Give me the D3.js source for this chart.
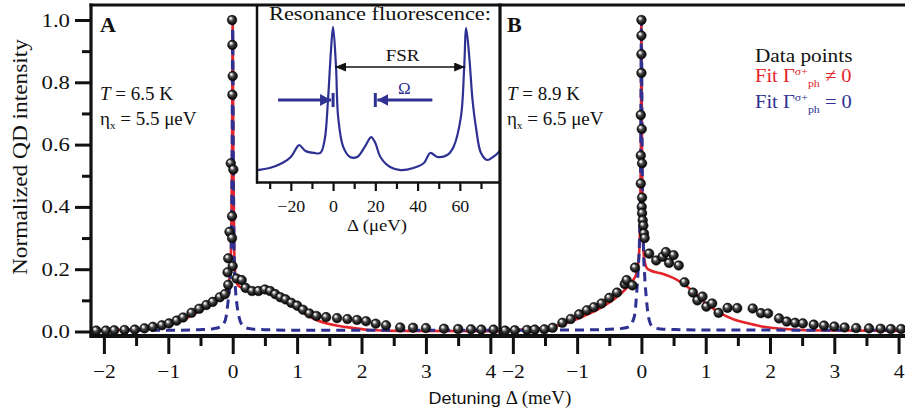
<!DOCTYPE html>
<html>
<head>
<meta charset="utf-8">
<script src="https://cdn.jsdelivr.net/npm/d3@7"></script>
<style>
  body { margin: 0; background: #fff; }
  svg text { font-family: "Liberation Serif", "Times New Roman", Times, serif; }
</style>
</head>
<body>
<svg id="chart" width="905" height="413"></svg>
<script>
// ---- measured spectra: detuning Δ (meV), normalized intensity ----
const dataA = [
  [-2.12,0.003],[-1.97,0.003],[-1.84,0.004],[-1.68,0.005],[-1.52,0.006],[-1.37,0.010],
  [-1.24,0.015],[-1.10,0.020],[-0.99,0.026],[-0.87,0.035],[-0.77,0.045],[-0.64,0.060],
  [-0.52,0.073],[-0.41,0.085],[-0.31,0.095],[-0.20,0.110],[-0.12,0.120],[-0.07,0.150],
  [-0.01,1.000],[-0.005,0.920],[0.0,0.820],[-0.005,0.760],[-0.03,0.540],[0.01,0.520],
  [-0.01,0.370],[-0.05,0.320],[-0.01,0.300],[-0.07,0.235],[0.0,0.210],[-0.08,0.190],
  [0.06,0.170],[0.14,0.165],
  [0.20,0.140],[0.30,0.130],[0.40,0.130],[0.50,0.135],[0.58,0.130],[0.66,0.120],
  [0.74,0.110],[0.82,0.103],[0.91,0.092],[1.00,0.083],[1.09,0.070],[1.19,0.058],
  [1.30,0.050],[1.45,0.046],[1.62,0.043],[1.78,0.040],[1.93,0.037],[2.07,0.033],
  [2.22,0.025],[2.38,0.020],[2.60,0.013],[2.80,0.012],[3.00,0.011],[3.28,0.009],
  [3.50,0.008],[3.70,0.007],[3.86,0.006],[4.05,0.006]
];
const fitRedA = [
  [-2.2,0.003],[-1.6,0.006],[-1.2,0.014],[-0.9,0.028],[-0.7,0.045],[-0.5,0.068],
  [-0.3,0.092],[-0.18,0.110],[-0.1,0.130],[-0.05,0.170],[-0.025,0.270],[-0.01,0.550],
  [0,1.0],[0.01,0.550],[0.025,0.250],[0.05,0.165],[0.1,0.145],[0.2,0.138],[0.35,0.133],
  [0.5,0.128],[0.65,0.115],[0.8,0.098],[0.95,0.080],[1.1,0.060],[1.3,0.037],[1.5,0.024],
  [1.77,0.014],[2.13,0.005],[2.6,0.002],[4.15,0.001]
];
const fitBlueA = [
  [-2.2,0.004],[-1.0,0.004],[-0.5,0.006],[-0.3,0.009],[-0.2,0.014],[-0.14,0.025],
  [-0.1,0.050],[-0.07,0.100],[-0.045,0.150],[-0.025,0.250],[-0.01,0.550],[0,1.0],
  [0.01,0.550],[0.025,0.220],[0.045,0.130],[0.07,0.080],[0.1,0.045],[0.14,0.022],
  [0.2,0.012],[0.3,0.008],[0.5,0.006],[1.0,0.004],[4.15,0.004]
];
const dataB = [
  [-2.12,0.003],[-1.97,0.004],[-1.78,0.005],[-1.66,0.006],[-1.51,0.007],[-1.38,0.012],
  [-1.23,0.028],[-1.10,0.040],[-0.97,0.055],[-0.85,0.068],[-0.74,0.078],[-0.62,0.090],
  [-0.50,0.108],[-0.38,0.125],[-0.26,0.152],[-0.23,0.165],[-0.14,0.148],[-0.10,0.205],
  [0.0,1.000],[0.0,0.950],[0.0,0.890],[0.0,0.830],[-0.01,0.695],[0.005,0.650],
  [-0.01,0.565],[0.01,0.540],[-0.01,0.475],[0.01,0.430],[0.005,0.400],[0.01,0.380],
  [0.02,0.357],[0.03,0.340],[0.04,0.315],[0.05,0.300],
  [0.12,0.250],[0.23,0.228],[0.33,0.240],[0.38,0.255],[0.43,0.220],[0.50,0.245],
  [0.58,0.212],[0.67,0.158],[0.80,0.125],[0.87,0.100],[0.95,0.112],[1.01,0.080],
  [1.10,0.090],[1.20,0.060],[1.34,0.076],[1.49,0.075],[1.73,0.074],[1.86,0.059],
  [1.97,0.058],[2.14,0.042],[2.26,0.032],[2.39,0.028],[2.51,0.026],[2.68,0.022],
  [2.84,0.019],[3.00,0.016],[3.16,0.013],[3.34,0.011],[3.54,0.010],[3.72,0.009],
  [3.88,0.008],[4.04,0.008]
];
const fitRedB = [
  [-2.2,0.004],[-1.8,0.007],[-1.5,0.012],[-1.25,0.022],[-1.0,0.040],[-0.8,0.058],
  [-0.6,0.080],[-0.4,0.108],[-0.25,0.135],[-0.15,0.160],[-0.08,0.185],[-0.04,0.240],
  [-0.02,0.350],[-0.008,0.600],[0,1.0],[0.008,0.600],[0.02,0.330],[0.04,0.240],
  [0.08,0.205],[0.15,0.195],[0.3,0.187],[0.45,0.176],[0.6,0.160],[0.76,0.136],
  [0.9,0.108],[1.05,0.083],[1.27,0.054],[1.45,0.038],[1.64,0.027],[1.85,0.017],
  [2.05,0.011],[2.47,0.005],[3.0,0.003],[4.1,0.002]
];
const fitBlueB = [
  [-2.2,0.004],[-1.0,0.005],[-0.5,0.007],[-0.3,0.010],[-0.2,0.015],[-0.14,0.030],
  [-0.1,0.060],[-0.075,0.120],[-0.05,0.200],[-0.03,0.300],[-0.012,0.550],[0,1.0],
  [0.012,0.550],[0.03,0.280],[0.05,0.180],[0.075,0.110],[0.1,0.060],[0.13,0.030],
  [0.18,0.014],[0.3,0.008],[0.6,0.006],[1.0,0.005],[4.1,0.004]
];
// resonance fluorescence spectrum of the inset: Δ (μeV), relative intensity
const insetSpectrum = [
  [-36,0.033],[-30,0.047],[-24,0.080],[-20,0.120],[-17,0.187],[-16,0.200],[-13,0.160],
  [-9,0.147],[-6,0.147],[-4,0.233],[-2.4,0.500],[-1,0.830],[0,0.987],[1.4,0.720],
  [2.4,0.387],[4.8,0.187],[8,0.120],[11.4,0.120],[15,0.187],[18,0.253],[20,0.213],
  [22.4,0.120],[27,0.053],[32,0.033],[38,0.047],[43,0.080],[46,0.147],[49.5,0.120],
  [54,0.133],[57,0.187],[60.5,0.387],[62,0.700],[63,0.980],[64.5,0.780],[66,0.500],
  [67.6,0.320],[70,0.147],[73,0.100],[75.7,0.120],[78,0.147],[79,0.167]
];
// tick values
const yMajor = [0, 0.2, 0.4, 0.6, 0.8, 1.0];
const yMinor = [0.1, 0.3, 0.5, 0.7, 0.9];
const xMajor = [-2, -1, 0, 1, 2, 3, 4];
const xMinor = [-1.5, -0.5, 0.5, 1.5, 2.5, 3.5];
const insetMajor = [-20, 0, 20, 40, 60];
const insetMinor = [-30, -10, 10, 30, 50, 70];
// inset annotation positions (μeV) and levels
const fsrFrom = 0, fsrTo = 63, fsrLevel = 0.72;
const omegaLeft = 0, omegaRight = 20, omegaLevel = 0.5;

const RED = "#e4252b", BLUE = "#2e3192", INK = "#111";
const SERIF = "'Liberation Serif', 'Times New Roman', Times, serif";

const svg = d3.select("#chart");
const defs = svg.append("defs");
const grad = defs.append("radialGradient").attr("id", "ball")
  .attr("cx", "50%").attr("cy", "50%").attr("r", "55%").attr("fx", "32%").attr("fy", "28%");
[[0, "#ffffff"], [0.18, "#d6d6d6"], [0.42, "#4a4a4a"], [0.75, "#161616"], [1, "#000"]]
  .forEach(([o, c]) => grad.append("stop").attr("offset", o).attr("stop-color", c));

// horizontally widen text glyphs around their anchor
function widen(sel, k) {
  sel.each(function () {
    const t = d3.select(this);
    const x = +t.attr("x") || 0;
    t.attr("transform", `translate(${x},0) scale(${k},1) translate(${-x},0)`);
  });
}

// ---- scales ----
const y = d3.scaleLinear().domain([0, 1]).range([331.5, 20]);
const xA = d3.scaleLinear().domain([-2.2, 4.15]).range([91, 500]);
const xB = d3.scaleLinear().domain([-2.2, 4.1]).range([500, 905]);
const axisY = 336;

function drawPanel(x, data, red, blue) {
  const g = svg.append("g");
  const line = d3.line().x(d => x(d[0])).y(d => y(d[1])).curve(d3.curveMonotoneX);
  g.append("path").attr("d", line(red)).attr("fill", "none")
    .attr("stroke", RED).attr("stroke-width", 2.6);
  g.append("path").attr("d", line(blue)).attr("fill", "none")
    .attr("stroke", BLUE).attr("stroke-width", 3).attr("stroke-dasharray", "9,6");
  g.selectAll("circle").data(data).join("circle")
    .attr("cx", d => x(d[0])).attr("cy", d => y(d[1])).attr("r", 4.8)
    .attr("fill", "url(#ball)").attr("stroke", "#000").attr("stroke-width", 0.5);

  // bottom axis: minor then major ticks
  const minor = svg.append("g").attr("transform", `translate(0,${axisY})`)
    .call(d3.axisBottom(x).tickValues(xMinor).tickSize(10).tickFormat(""));
  const major = svg.append("g").attr("transform", `translate(0,${axisY})`)
    .call(d3.axisBottom(x).tickValues(xMajor).tickSize(18).tickFormat(d3.format("d")));
  [minor, major].forEach(a => {
    a.select(".domain").remove();
    a.selectAll("line").attr("stroke", INK).attr("stroke-width", 3);
  });
  major.selectAll("text").attr("y", 42).attr("dy", null)
    .style("font-family", SERIF).style("font-size", "19px").style("fill", INK);
  widen(major.selectAll("text"), 1.13);
}

drawPanel(xA, dataA, fitRedA, fitBlueA);
drawPanel(xB, dataB, fitRedB, fitBlueB);

// ---- left axis ----
const yMin = svg.append("g").attr("transform", "translate(91,0)")
  .call(d3.axisLeft(y).tickValues(yMinor).tickSize(9).tickFormat(""));
const yMaj = svg.append("g").attr("transform", "translate(91,0)")
  .call(d3.axisLeft(y).tickValues(yMajor).tickSize(16).tickFormat(d3.format(".1f")));
[yMin, yMaj].forEach(a => {
  a.select(".domain").remove();
  a.selectAll("line").attr("stroke", INK).attr("stroke-width", 3);
});
yMaj.selectAll("text").attr("x", -21)
  .style("font-family", SERIF).style("font-size", "19px").style("fill", INK);
widen(yMaj.selectAll("text"), 1.2);

// ---- inset: resonance fluorescence ----
const xi = d3.scaleLinear().domain([-36, 79]).range([257, 500]);
const yi = d3.scaleLinear().domain([0, 1]).range([175, 25]);
const inset = svg.append("g");
inset.append("rect").attr("x", 257).attr("y", 5).attr("width", 243).attr("height", 178).attr("fill", "#fff");
inset.append("path")
  .attr("d", d3.line().x(d => xi(d[0])).y(d => yi(d[1])).curve(d3.curveCatmullRom)(insetSpectrum))
  .attr("fill", "none").attr("stroke", BLUE).attr("stroke-width", 2.2);
inset.append("line").attr("x1", 257).attr("x2", 257).attr("y1", 5).attr("y2", 183.5)
  .attr("stroke", INK).attr("stroke-width", 2.5);
inset.append("line").attr("x1", 256).attr("x2", 500).attr("y1", 182.5).attr("y2", 182.5)
  .attr("stroke", INK).attr("stroke-width", 2.5);
const iMin = inset.append("g").attr("transform", "translate(0,183)")
  .call(d3.axisBottom(xi).tickValues(insetMinor).tickSize(6).tickFormat(""));
const iMaj = inset.append("g").attr("transform", "translate(0,183)")
  .call(d3.axisBottom(xi).tickValues(insetMajor).tickSize(8).tickFormat(d3.format("d")));
[iMin, iMaj].forEach(a => {
  a.select(".domain").remove();
  a.selectAll("line").attr("stroke", INK).attr("stroke-width", 2.2);
});
iMaj.selectAll("text").attr("y", 29).attr("dy", null)
  .style("font-family", SERIF).style("font-size", "16px").style("fill", INK);
widen(iMaj.selectAll("text"), 1.12);

function addText(g, x, yv, str, size, opts = {}) {
  const t = g.append("text").attr("x", x).attr("y", yv)
    .style("font-size", size + "px")
    .attr("text-anchor", opts.anchor || "start")
    .style("fill", opts.fill || INK);
  if (opts.weight) t.style("font-weight", opts.weight);
  if (opts.family) t.style("font-family", opts.family);
  if (opts.k) widen(t, opts.k);
  t.text(str);
  return t;
}

addText(inset, 380, 20, "Resonance fluorescence:", 19, { anchor: "middle", k: 1.18 });
addText(inset, 377, 231, "Δ (μeV)", 16, { anchor: "middle", k: 1.17 });

// arrow markers
function marker(id, color, w, h) {
  defs.append("marker").attr("id", id).attr("viewBox", `0 0 ${w} ${h}`)
    .attr("refX", w).attr("refY", h / 2).attr("markerWidth", w).attr("markerHeight", h)
    .attr("markerUnits", "userSpaceOnUse").attr("orient", "auto-start-reverse")
    .append("path").attr("d", `M0,0L${w},${h / 2}L0,${h}Z`).attr("fill", color);
}
marker("arrK", INK, 11, 9);
marker("arrB", BLUE, 11, 12);

// FSR double arrow
inset.append("line")
  .attr("x1", xi(fsrFrom) + 2).attr("x2", xi(fsrTo) - 1)
  .attr("y1", yi(fsrLevel)).attr("y2", yi(fsrLevel))
  .attr("stroke", INK).attr("stroke-width", 1.6)
  .attr("marker-start", "url(#arrK)").attr("marker-end", "url(#arrK)");
addText(inset, (xi(fsrFrom) + xi(fsrTo)) / 2 + 3, yi(fsrLevel) - 6, "FSR", 17, { anchor: "middle", k: 1.12 });

// Ω arrows pointing at the two bars
const oy = yi(omegaLevel);
inset.append("line").attr("x1", xi(omegaLeft) - 55).attr("x2", xi(omegaLeft) - 2)
  .attr("y1", oy).attr("y2", oy).attr("stroke", BLUE).attr("stroke-width", 3.2)
  .attr("marker-end", "url(#arrB)");
inset.append("line").attr("x1", xi(omegaLeft)).attr("x2", xi(omegaLeft))
  .attr("y1", oy - 7).attr("y2", oy + 7).attr("stroke", BLUE).attr("stroke-width", 3);
inset.append("line").attr("x1", xi(omegaRight) + 57).attr("x2", xi(omegaRight) + 2)
  .attr("y1", oy).attr("y2", oy).attr("stroke", BLUE).attr("stroke-width", 3.2)
  .attr("marker-end", "url(#arrB)");
inset.append("line").attr("x1", xi(omegaRight)).attr("x2", xi(omegaRight))
  .attr("y1", oy - 7).attr("y2", oy + 7).attr("stroke", BLUE).attr("stroke-width", 3);
addText(inset, (xi(omegaLeft) + xi(omegaRight)) / 2 + 50, oy - 6, "Ω", 17, { anchor: "middle", fill: BLUE });

// ---- frame ----
const frame = svg.append("g").attr("stroke", INK).attr("stroke-width", 3.2);
frame.append("line").attr("x1", 89.5).attr("x2", 905).attr("y1", 5).attr("y2", 5);
frame.append("line").attr("x1", 91).attr("x2", 91).attr("y1", 3.5).attr("y2", 337.5);
frame.append("line").attr("x1", 500).attr("x2", 500).attr("y1", 3.5).attr("y2", 337.5);
frame.append("line").attr("x1", 89.5).attr("x2", 905).attr("y1", axisY).attr("y2", axisY)
  .attr("stroke-width", 4);

// ---- panel labels ----
addText(svg, 100, 32, "A", 20, { weight: "bold", k: 1.1 });
addText(svg, 507, 32, "B", 20, { weight: "bold", k: 1.1 });

function condLines(x, temp, eta) {
  const t = svg.append("text").attr("x", x).attr("y", 100).style("font-size", "19px").style("fill", INK);
  t.append("tspan").style("font-style", "italic").text("T");
  t.append("tspan").text(` = ${temp} K`);
  const e = svg.append("text").attr("x", x).attr("y", 125).style("font-size", "19px").style("fill", INK);
  e.append("tspan").text("η");
  e.append("tspan").attr("dy", 4).style("font-size", "11px").text("x");
  e.append("tspan").attr("dy", -4).text(` = ${eta} μeV`);
}
condLines(100, "6.5", "5.5");
condLines(507, "8.9", "6.5");

// ---- legend ----
addText(svg, 755, 62, "Data points", 19, { k: 1.12 });
function fitLegend(yv, sym, color) {
  const t = svg.append("text").attr("x", 755).attr("y", yv).style("font-size", "19px").style("fill", color);
  t.append("tspan").text("Fit Γ");
  t.append("tspan").attr("dy", -7).style("font-size", "11px").text("σ+");
  t.append("tspan").attr("dy", 12).style("font-size", "11px").text("ph");
  t.append("tspan").attr("dy", -5).text(` ${sym} 0`);
  widen(t, 1.08);
}
fitLegend(82, "≠", RED);
fitLegend(108, "=", BLUE);

// ---- axis titles ----
svg.append("text").attr("transform", "translate(27,157) rotate(-90)")
  .attr("text-anchor", "middle").style("font-size", "20px").style("fill", INK)
  .attr("textLength", 236).attr("lengthAdjust", "spacingAndGlyphs")
  .text("Normalized QD intensity");
const xt = svg.append("text").attr("x", 500).attr("y", 404).attr("text-anchor", "middle").style("fill", INK);
xt.append("tspan").style("font-family", "'Liberation Sans', Arial, sans-serif").style("font-size", "17px").text("Detuning ");
xt.append("tspan").style("font-size", "18px").text("Δ (meV)");
widen(xt, 1.06);
</script>
</body>
</html>
